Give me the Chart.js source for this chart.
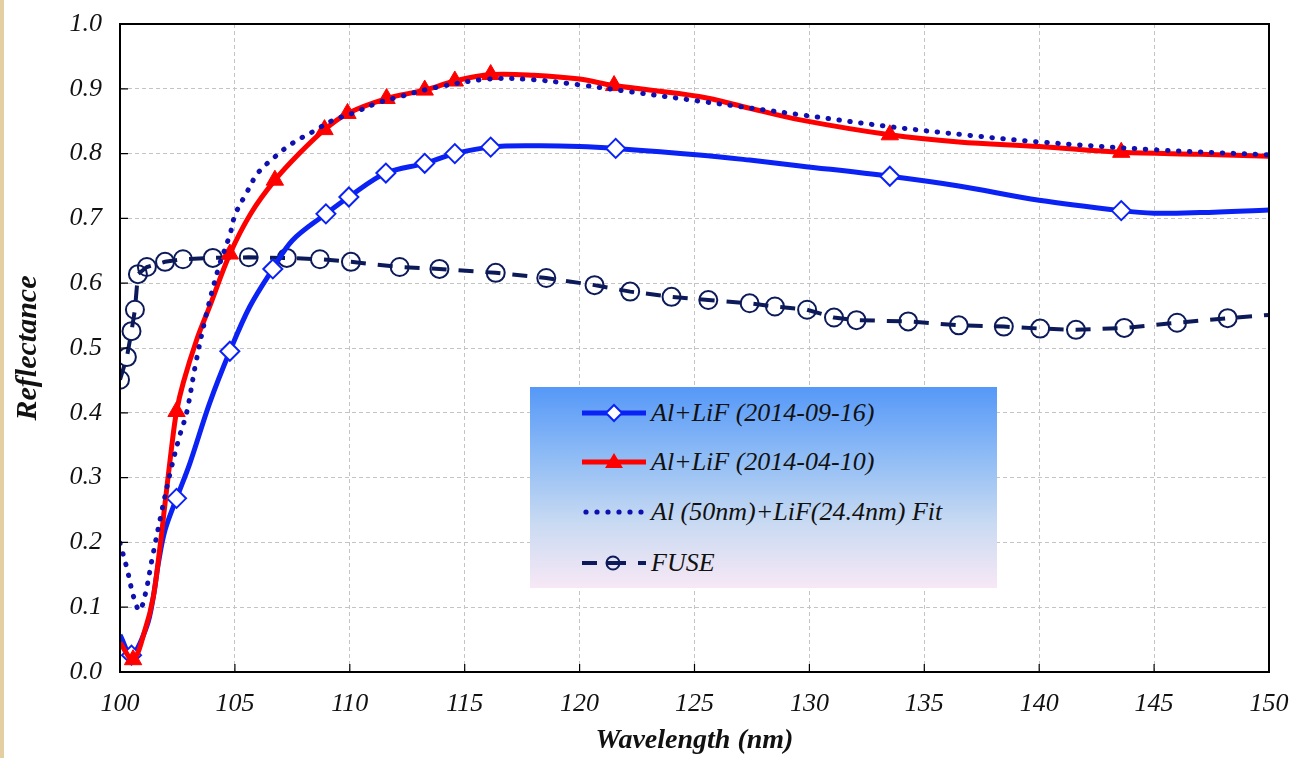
<!DOCTYPE html>
<html lang="en">
<head>
<meta charset="UTF-8" />
<title>Al+LiF Reflectance vs Wavelength</title>
<style>
  * { box-sizing: border-box; }
  body { margin: 0; padding: 0; background: #fff; }
  #wrap { position: relative; width: 1293px; height: 758px; }
  #strip { position: absolute; left: 0; top: 0; width: 4px; height: 758px; background: #e3cfa2; }
  #legend {
    position: absolute; left: 530px; top: 387px; width: 467px; height: 201px;
    background: linear-gradient(to bottom, #5598f8 0%, #8fbcf5 35%, #c9daf2 68%, #f8e8f5 100%);
    font-family: 'Liberation Serif', 'Times New Roman', serif;
    font-style: italic; font-size: 26px; color: #111;
  }
  .row { position: absolute; left: 52px; height: 30px; display: flex; align-items: center; white-space: nowrap; }
  .row svg { width: 64px; height: 30px; margin-right: 5px; flex: none; }
</style>
</head>
<body>
<div id="wrap">
  <canvas id="refl" width="1293" height="758"></canvas>
  <div id="strip"></div>
  <div id="legend">
    <div class="row" style="top:11px">
      <svg viewBox="0 0 64 30"><line x1="0" y1="15" x2="64" y2="15" stroke="#0b22f5" stroke-width="5"/>
        <polygon points="32,7 40,15 32,23 24,15" fill="#fff" stroke="#0b22f5" stroke-width="2"/></svg>
      <span>Al+LiF (2014-09-16)</span>
    </div>
    <div class="row" style="top:60px">
      <svg viewBox="0 0 64 30"><line x1="0" y1="15" x2="64" y2="15" stroke="#ff0000" stroke-width="5"/>
        <polygon points="32,6 41,21 23,21" fill="#ff0000"/></svg>
      <span>Al+LiF (2014-04-10)</span>
    </div>
    <div class="row" style="top:110px">
      <svg viewBox="0 0 64 30">
        <circle cx="4" cy="15" r="2.6" fill="#1010b0"/><circle cx="15" cy="15" r="2.6" fill="#1010b0"/>
        <circle cx="26" cy="15" r="2.6" fill="#1010b0"/><circle cx="37" cy="15" r="2.6" fill="#1010b0"/>
        <circle cx="48" cy="15" r="2.6" fill="#1010b0"/><circle cx="59" cy="15" r="2.6" fill="#1010b0"/></svg>
      <span>Al (50nm)+LiF(24.4nm) Fit</span>
    </div>
    <div class="row" style="top:161px">
      <svg viewBox="0 0 64 30"><line x1="0" y1="15" x2="15" y2="15" stroke="#0c1a5a" stroke-width="4"/>
        <line x1="25" y1="15" x2="44" y2="15" stroke="#0c1a5a" stroke-width="4"/>
        <circle cx="31" cy="15" r="6.5" fill="none" stroke="#0c1a5a" stroke-width="2"/>
        <line x1="56" y1="15" x2="64" y2="15" stroke="#0c1a5a" stroke-width="4"/></svg>
      <span>FUSE</span>
    </div>
  </div>
</div>

<script src="https://cdn.jsdelivr.net/npm/chart.js"></script>
<script>
// Al+LiF (2014-09-16): curve samples, then the measured markers
const sepLam = [100.0, 100.5, 101.16, 101.45, 101.67, 101.96, 102.46, 103.04, 103.9, 104.78, 105.65, 106.65,
  107.5, 108.96, 109.96, 111.57, 113.26, 114.57, 116.13, 118, 120, 121.57, 125.2, 127.4, 129.6, 133.5,
  136.5, 140, 143.57, 145, 147, 150];
const sepR = [0.057, 0.026, 0.07, 0.116, 0.168, 0.219, 0.268, 0.322, 0.415, 0.495, 0.564, 0.622,
  0.666, 0.707, 0.733, 0.77, 0.785, 0.80, 0.81, 0.812, 0.811, 0.808, 0.798, 0.79, 0.781, 0.765,
  0.75, 0.728, 0.712, 0.708, 0.709, 0.713];
const sepMarkLam = [100.5, 102.46, 104.78, 106.65, 108.96, 109.96, 111.57, 113.26, 114.57, 116.13, 121.57, 133.5, 143.57];
const sepMarkR = [0.026, 0.268, 0.495, 0.622, 0.707, 0.733, 0.77, 0.785, 0.80, 0.81, 0.808, 0.765, 0.712];

// Al+LiF (2014-04-10)
const aprLam = [100.0, 100.57, 101.09, 101.45, 101.74, 101.96, 102.25, 102.46, 102.75, 103.33, 103.9, 104.78,
  105.7, 106.74, 107.8, 108.9, 109.9, 111.6, 113.26, 114.57, 116.13, 118, 120, 121.5, 125.2, 127.4,
  129.6, 133.5, 136.5, 140, 143.57, 147, 150];
const aprR = [0.045, 0.019, 0.065, 0.116, 0.193, 0.26, 0.348, 0.402, 0.446, 0.512, 0.564, 0.645,
  0.708, 0.759, 0.80, 0.837, 0.862, 0.885, 0.898, 0.912, 0.922, 0.921, 0.915, 0.905, 0.888, 0.87,
  0.852, 0.829, 0.818, 0.811, 0.802, 0.799, 0.796];
const aprMarkLam = [100.57, 102.46, 104.78, 106.74, 108.9, 109.9, 111.6, 113.26, 114.57, 116.13, 121.5, 133.5, 143.57];
const aprMarkR = [0.019, 0.402, 0.645, 0.759, 0.837, 0.862, 0.885, 0.898, 0.912, 0.922, 0.905, 0.829, 0.802];

// Al (50nm)+LiF (24.4nm) model fit
const fitLam = [100.0, 100.3, 100.6, 100.85, 101.1, 101.4, 101.8, 102.2, 102.6, 102.9, 103.3, 103.77, 104.3,
  104.8, 105.0, 105.5, 106.0, 106.74, 107.5, 108.4, 109.3, 110.1, 111.2, 112.2, 113.6, 116.0, 118, 120,
  122.3, 125.2, 129.6, 133.4, 137, 140, 145, 150];
const fitR = [0.199, 0.16, 0.115, 0.095, 0.12, 0.175, 0.245, 0.31, 0.365, 0.40, 0.477, 0.554, 0.625,
  0.677, 0.705, 0.739, 0.77, 0.795, 0.816, 0.834, 0.852, 0.862, 0.878, 0.888, 0.901, 0.915, 0.914, 0.906,
  0.895, 0.881, 0.86, 0.842, 0.828, 0.818, 0.806, 0.798];

// FUSE (last sample has no marker)
const fuseLam = [100.0, 100.3, 100.5, 100.65, 100.78, 101.17, 101.96, 102.74, 104.04, 105.6, 107.26, 108.7,
  110.05, 112.17, 113.9, 116.35, 118.55, 120.65, 122.2, 124.0, 125.6, 127.4, 128.5, 129.9, 131.07,
  132.05, 134.3, 136.5, 138.46, 140.04, 141.6, 143.7, 146.0, 148.2, 150];
const fuseR = [0.451, 0.486, 0.526, 0.559, 0.614, 0.625, 0.633, 0.637, 0.639, 0.64, 0.639, 0.637,
  0.633, 0.625, 0.622, 0.616, 0.608, 0.597, 0.587, 0.579, 0.574, 0.569, 0.564, 0.559, 0.547,
  0.543, 0.541, 0.535, 0.533, 0.530, 0.528, 0.531, 0.539, 0.546, 0.551];

const xRange = [100, 150], xStep = 5;
const yRange = [0, 1], yStep = 0.1;

const pts = (xs, ys) => xs.map((x, i) => ({x, y: ys[i]}));

// black box round the plot, with short inner ticks
const frame = {
  id: 'frame',
  afterDatasetsDraw(chart) {
    const {ctx, chartArea: a, scales} = chart;
    ctx.save();
    ctx.strokeStyle = '#000';
    ctx.lineWidth = 2;
    ctx.strokeRect(a.left, a.top, a.right - a.left, a.bottom - a.top);
    ctx.lineWidth = 1.2;
    ctx.beginPath();
    scales.y.ticks.forEach(t => {
      const y = scales.y.getPixelForValue(t.value);
      ctx.moveTo(a.left, y); ctx.lineTo(a.left + 8, y);
    });
    scales.x.ticks.forEach(t => {
      const x = scales.x.getPixelForValue(t.value);
      ctx.moveTo(x, a.bottom); ctx.lineTo(x, a.bottom - 8);
    });
    ctx.stroke();
    ctx.restore();
  }
};

const serif = "'Liberation Serif', 'Times New Roman', serif";

new Chart(document.getElementById('refl'), {
  type: 'scatter',
  data: {
    datasets: [
      {
        label: 'Al (50nm)+LiF(24.4nm) Fit',
        data: pts(fitLam, fitR),
        showLine: true, order: 1,
        borderColor: '#1010b0', borderWidth: 5,
        borderDash: [0.5, 10.5], borderCapStyle: 'round',
        tension: 0.35, pointRadius: 0
      },
      {
        label: 'Al+LiF (2014-04-10) markers',
        data: pts(aprMarkLam, aprMarkR),
        order: 2,
        pointStyle: 'triangle', pointRadius: 10,
        backgroundColor: '#ff0000', borderColor: '#ff0000', borderWidth: 1
      },
      {
        label: 'Al+LiF (2014-04-10)',
        data: pts(aprLam, aprR),
        showLine: true, order: 3,
        borderColor: '#ff0000', borderWidth: 5,
        tension: 0.35, pointRadius: 0
      },
      {
        label: 'Al+LiF (2014-09-16) markers',
        data: pts(sepMarkLam, sepMarkR),
        order: 4,
        pointStyle: 'rectRot', pointRadius: 9.5,
        backgroundColor: '#ffffff', borderColor: '#0b22f5', borderWidth: 2
      },
      {
        label: 'Al+LiF (2014-09-16)',
        data: pts(sepLam, sepR),
        showLine: true, order: 5,
        borderColor: '#0b22f5', borderWidth: 5,
        tension: 0.35, pointRadius: 0
      },
      {
        label: 'FUSE',
        data: pts(fuseLam, fuseR),
        showLine: true, order: 6,
        borderColor: '#0c1a5a', borderWidth: 4, borderDash: [15, 12],
        tension: 0,
        pointStyle: 'circle',
        pointRadius: c => c.dataIndex === fuseLam.length - 1 ? 0 : 9,
        pointBorderColor: '#0c1a5a', pointBorderWidth: 2,
        pointBackgroundColor: 'rgba(0,0,0,0)'
      }
    ]
  },
  options: {
    responsive: false,
    animation: false,
    layout: { padding: { left: 0, right: 24, top: 24, bottom: 0 } },
    plugins: {
      legend: { display: false },
      tooltip: { enabled: false }
    },
    scales: {
      x: {
        type: 'linear', min: xRange[0], max: xRange[1],
        afterFit: s => { s.height = 86; s.paddingLeft = 0; s.paddingRight = 0; },
        ticks: { stepSize: xStep, padding: 17, color: '#111',
          font: { family: serif, style: 'italic', size: 26 } },
        grid: { color: '#c4c4c4', lineWidth: 1, drawTicks: false },
        border: { display: true, color: '#000', width: 2, dash: [4, 3] },
        title: { display: true, text: 'Wavelength (nm)', color: '#111', padding: 0,
          font: { family: serif, style: 'italic', weight: 'bold', size: 28 } }
      },
      y: {
        min: yRange[0], max: yRange[1],
        afterFit: s => { s.width = 120; s.paddingTop = 0; s.paddingBottom = 0; },
        ticks: { stepSize: yStep, padding: 18, color: '#111',
          callback: v => v.toFixed(1),
          font: { family: serif, style: 'italic', size: 26 } },
        grid: { color: '#c4c4c4', lineWidth: 1, drawTicks: false },
        border: { display: true, color: '#000', width: 2, dash: [4, 3] },
        title: { display: true, text: 'Reflectance', color: '#111', padding: { top: 10, bottom: 0 },
          font: { family: serif, style: 'italic', weight: 'bold', size: 30 } }
      }
    }
  },
  plugins: [frame]
});
</script>
</body>
</html>
